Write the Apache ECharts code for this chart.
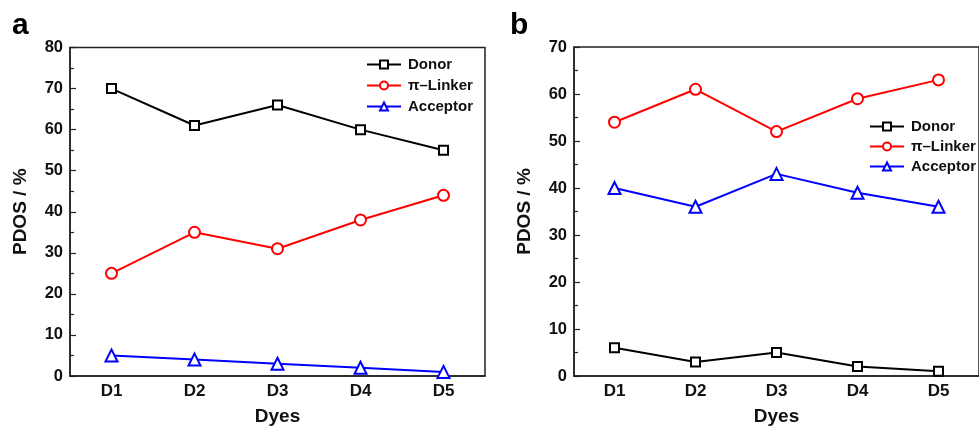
<!DOCTYPE html>
<html>
<head>
<meta charset="utf-8">
<script src="https://cdn.jsdelivr.net/npm/echarts@6/dist/echarts.min.js"></script>
<style>
html,body{margin:0;padding:0;background:#fff;}
#chart{width:979px;height:431px;}
</style>
</head>
<body>
<div id="chart"></div>
<script>
// ---- data ----
const categories = ['D1', 'D2', 'D3', 'D4', 'D5'];
const seriesNames = ['Donor', 'π–Linker', 'Acceptor'];
// panel a
const aDonor = [70, 61, 66, 60, 55];
const aLinker = [25, 35, 31, 38, 44];
const aAcceptor = [5, 4, 3, 2, 1];
// panel b
const bDonor = [6, 3, 5, 2, 1];
const bLinker = [54, 61, 52, 59, 63];
const bAcceptor = [40, 36, 43, 39, 36];
const aYMax = 80, bYMax = 70, yInterval = 10;
const panelLabels = ['a', 'b'];
const xTitle = 'Dyes', yTitle = 'PDOS / %';

const FONT = 'Liberation Sans';
const AXC = '#222';
const colors = ['#000000', '#ff0000', '#0000ff'];
const symbols = ['emptyRect', 'emptyCircle', 'emptyTriangle'];
const symSizes = [9, 11, 12];

function xAxes(gi) {
  return [
    {
      type: 'category', gridIndex: gi, data: categories, boundaryGap: true,
      name: xTitle, nameLocation: 'middle', nameGap: 31,
      nameTextStyle: {fontFamily: FONT, fontWeight: 'bold', fontSize: 19, color: '#111'},
      axisLine: {lineStyle: {color: AXC, width: 1.5}},
      axisTick: {alignWithLabel: true, inside: true, length: 6, lineStyle: {color: AXC, width: 1.2}},
      axisLabel: {fontFamily: FONT, fontWeight: 'bold', fontSize: 17, color: '#111', margin: 7},
      splitLine: {show: false}
    },
    {
      type: 'category', gridIndex: gi, data: categories, boundaryGap: true, position: 'bottom',
      axisLine: {show: false},
      axisTick: {alignWithLabel: false, inside: true, length: 4, lineStyle: {color: AXC, width: 1.2}},
      axisLabel: {show: false},
      splitLine: {show: false}
    }
  ];
}
function yAxis(gi, max) {
  return {
    type: 'value', gridIndex: gi, min: 0, max: max, interval: yInterval,
    name: yTitle, nameLocation: 'middle', nameGap: 40,
    nameTextStyle: {fontFamily: FONT, fontWeight: 'bold', fontSize: 19, color: '#111'},
    axisLine: {show: true, lineStyle: {color: AXC, width: 1.5}},
    axisTick: {show: true, inside: true, length: 6, lineStyle: {color: AXC, width: 1.2}},
    minorTick: {show: true, splitNumber: 2, length: 4, lineStyle: {color: AXC, width: 1.2}},
    axisLabel: {fontFamily: FONT, fontWeight: 'bold', fontSize: 16.5, color: '#111', margin: 7},
    splitLine: {show: false}
  };
}
function makeSeries(gi, datas) {
  return datas.map((d, i) => ({
    type: 'line', name: seriesNames[i], xAxisIndex: gi * 2, yAxisIndex: gi,
    data: d, symbol: symbols[i], symbolSize: symSizes[i],
    lineStyle: {color: colors[i], width: 2},
    itemStyle: {color: colors[i], borderColor: colors[i], borderWidth: 2},
    animation: false, z: 3
  }));
}
function legend(left, top, gap) {
  return {
    data: seriesNames, orient: 'vertical', left: left, top: top,
    itemWidth: 34, itemHeight: 10, itemGap: gap,
    lineStyle: {width: 2},
    itemStyle: {borderWidth: 2},
    textStyle: {fontFamily: FONT, fontWeight: 'bold', fontSize: 15, color: '#111', padding: [0, 0, 0, 2]},
    selectedMode: false
  };
}

const chart = echarts.init(document.getElementById('chart'), null, {renderer: 'canvas'});
chart.setOption({
  backgroundColor: '#fff',
  animation: false,
  title: [
    {text: panelLabels[0], left: 7, top: 6, textStyle: {fontFamily: FONT, fontWeight: 'bold', fontSize: 30, color: '#000'}},
    {text: panelLabels[1], left: 505, top: 6, textStyle: {fontFamily: FONT, fontWeight: 'bold', fontSize: 30, color: '#000'}}
  ],
  grid: [
    {left: 70, top: 47.5, right: 494, bottom: 52, show: true, borderColor: AXC, borderWidth: 1.5, backgroundColor: 'transparent'},
    {left: 574, top: 47, right: -9, bottom: 53.5, show: true, borderColor: AXC, borderWidth: 1.5, backgroundColor: 'transparent'}
  ],
  legend: [legend(361, 52, 6), legend(864, 114, 5)],
  xAxis: xAxes(0).concat(xAxes(1)),
  yAxis: [yAxis(0, aYMax), yAxis(1, bYMax)],
  series: makeSeries(0, [aDonor, aLinker, aAcceptor]).concat(makeSeries(1, [bDonor, bLinker, bAcceptor]))
});
</script>
</body>
</html>
